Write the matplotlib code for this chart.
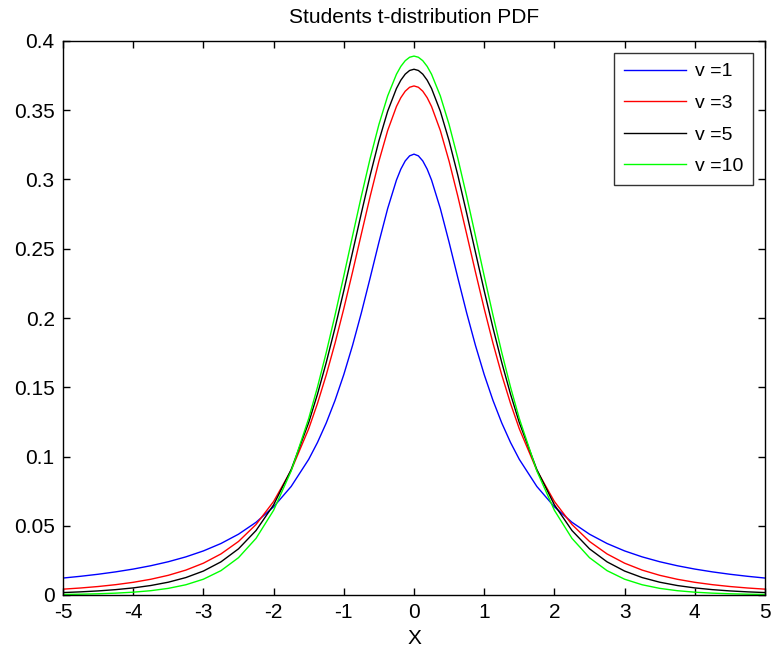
import numpy as np
import matplotlib.pyplot as plt

plt.rcParams['font.family'] = ['Liberation Sans', 'DejaVu Sans']
plt.rcParams['axes.unicode_minus'] = False

# x grid (finer around the peak) and t-distribution pdf values per degree of freedom
x = [-5.0, -4.75, -4.5, -4.25, -4.0, -3.75, -3.5, -3.25, -3.0, -2.75, -2.5,
     -2.25, -2.0, -1.75, -1.5, -1.375, -1.25, -1.125, -1.0, -0.875, -0.75,
     -0.625, -0.5, -0.375, -0.25, -0.1875, -0.125, -0.0625, 0.0,
     0.0625, 0.125, 0.1875, 0.25, 0.375, 0.5, 0.625, 0.75, 0.875, 1.0, 1.125, 1.25,
     1.375, 1.5, 1.75, 2.0, 2.25, 2.5, 2.75, 3.0, 3.25, 3.5,
     3.75, 4.0, 4.25, 4.5, 4.75, 5.0]

pdf_v1 = [0.01224, 0.01351, 0.01498, 0.01670, 0.01872, 0.02113, 0.02402, 0.02753, 0.03183, 0.03718, 0.04390,
          0.05250, 0.06366, 0.07835, 0.09794, 0.11012, 0.12422, 0.14050, 0.15915, 0.18028, 0.20372,
          0.22890, 0.25465, 0.27906, 0.29959, 0.30750, 0.31341, 0.31707, 0.31831,
          0.31707, 0.31341, 0.30750, 0.29959, 0.27906, 0.25465, 0.22890, 0.20372, 0.18028, 0.15915, 0.14050, 0.12422,
          0.11012, 0.09794, 0.07835, 0.06366, 0.05250, 0.04390, 0.03718, 0.03183, 0.02753, 0.02402,
          0.02113, 0.01872, 0.01670, 0.01498, 0.01351, 0.01224]

pdf_v3 = [0.00422, 0.00506, 0.00612, 0.00746, 0.00916, 0.01136, 0.01422, 0.01798, 0.02297, 0.02965, 0.03866,
          0.05089, 0.06751, 0.09000, 0.12002, 0.13831, 0.15891, 0.18180, 0.20675, 0.23329, 0.26065,
          0.28774, 0.31318, 0.33537, 0.35270, 0.35909, 0.36375, 0.36660, 0.36755,
          0.36660, 0.36375, 0.35909, 0.35270, 0.33537, 0.31318, 0.28774, 0.26065, 0.23329, 0.20675, 0.18180, 0.15891,
          0.13831, 0.12002, 0.09000, 0.06751, 0.05089, 0.03866, 0.02965, 0.02297, 0.01798, 0.01422,
          0.01136, 0.00916, 0.00746, 0.00612, 0.00506, 0.00422]

pdf_v5 = [0.00176, 0.00227, 0.00295, 0.00387, 0.00512, 0.00685, 0.00924, 0.01259, 0.01729, 0.02393, 0.03333,
          0.04657, 0.06509, 0.09054, 0.12452, 0.14503, 0.16789, 0.19291, 0.21968, 0.24757, 0.27570,
          0.30292, 0.32792, 0.34930, 0.36572, 0.37171, 0.37607, 0.37872, 0.37961,
          0.37872, 0.37607, 0.37171, 0.36572, 0.34930, 0.32792, 0.30292, 0.27570, 0.24757, 0.21968, 0.19291, 0.16789,
          0.14503, 0.12452, 0.09054, 0.06509, 0.04657, 0.03333, 0.02393, 0.01729, 0.01259, 0.00924,
          0.00685, 0.00512, 0.00387, 0.00295, 0.00227, 0.00176]

pdf_v10 = [0.00040, 0.00059, 0.00088, 0.00134, 0.00203, 0.00311, 0.00479, 0.00739, 0.01140, 0.01758, 0.02694,
           0.04090, 0.06115, 0.08953, 0.12745, 0.15012, 0.17510, 0.20203, 0.23036, 0.25933, 0.28798,
           0.31517, 0.33969, 0.36035, 0.37600, 0.38167, 0.38578, 0.38827, 0.38911,
           0.38827, 0.38578, 0.38167, 0.37600, 0.36035, 0.33969, 0.31517, 0.28798, 0.25933, 0.23036, 0.20203, 0.17510,
           0.15012, 0.12745, 0.08953, 0.06115, 0.04090, 0.02694, 0.01758, 0.01140, 0.00739, 0.00479,
           0.00311, 0.00203, 0.00134, 0.00088, 0.00059, 0.00040]

labels = ['v =1', 'v =3', 'v =5', 'v =10']
colors = ['#0000ff', '#ff0000', '#000000', '#00ff00']

fig = plt.figure(figsize=(7.72, 6.55), dpi=100)
ax = fig.add_axes([63 / 772, 1 - 595 / 655, 702 / 772, 554 / 655])

for y, lab, c in zip([pdf_v1, pdf_v3, pdf_v5, pdf_v10], labels, colors):
    ax.plot(x, y, color=c, lw=1.0, label=lab)

ax.set_xlim(-5, 5)
ax.set_ylim(0, 0.4)
ax.set_xticks(np.arange(-5, 6, 1))
ax.set_yticks(np.arange(0, 0.41, 0.05))
ax.set_yticklabels(['0', '0.05', '0.1', '0.15', '0.2', '0.25', '0.3', '0.35', '0.4'])
ax.tick_params(direction='in', top=True, right=True, length=5, width=1,
               labelsize=15, pad=6)
for s in ax.spines.values():
    s.set_linewidth(1)

ax.set_title('Students t-distribution PDF', fontsize=15, pad=13)
ax.set_xlabel('X', fontsize=15, labelpad=5)

leg = ax.legend(loc='upper right', fontsize=14, frameon=True, fancybox=False,
                edgecolor='black', borderpad=0.5, handlelength=3.2,
                handletextpad=0.45, labelspacing=0.72, borderaxespad=0.62)
leg.get_frame().set_linewidth(1)

fig.savefig('out.png', dpi=100)
